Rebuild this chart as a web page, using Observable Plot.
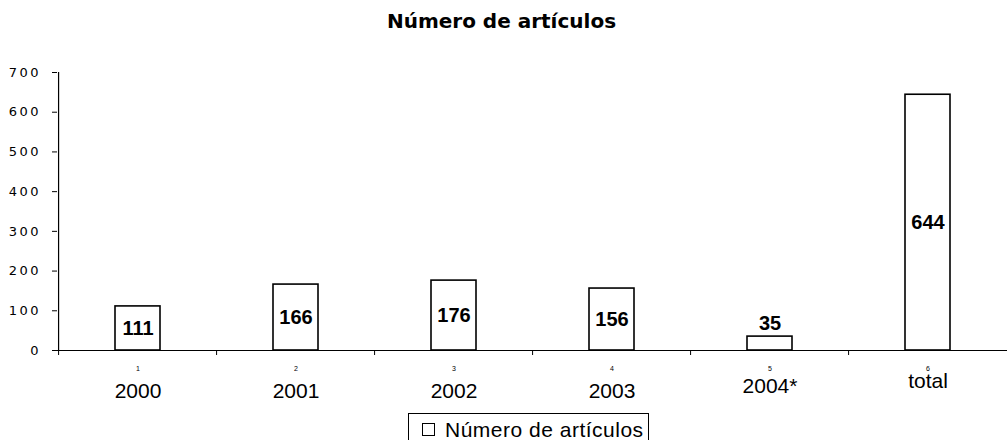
<!DOCTYPE html>
<html><head><meta charset="utf-8">
<script src="https://cdn.jsdelivr.net/npm/d3@7"></script>
<script src="https://cdn.jsdelivr.net/npm/@observablehq/plot@0.6"></script>
<style>
body{margin:0;background:#fff;}
#wrap{position:relative;width:1007px;height:440px;overflow:hidden;background:#fff;}
#title{position:absolute;left:0;top:11px;width:1003px;text-align:center;font-family:"DejaVu Sans";font-weight:bold;font-size:20px;line-height:20px;color:#000;}
#chart{position:absolute;left:0;top:0;}
#legend{position:absolute;left:408px;top:413px;width:241px;height:34px;border:1px solid #000;box-sizing:border-box;background:#fff;}
#legend .sw{position:absolute;left:13px;top:9px;width:13px;height:13px;border:1.5px solid #000;box-sizing:border-box;background:#fff;}
#legend .lb{position:absolute;left:36px;top:5px;font-family:"Liberation Sans";font-size:21px;line-height:21px;letter-spacing:0.5px;white-space:nowrap;color:#000;}
g[aria-label="y-axis tick label"] text{letter-spacing:2.5px;}
</style>
</head><body>
<div id="wrap">
  <div id="title">Número de artículos</div>
  <div id="chart"></div>
  <div id="legend"><div class="sw"></div><div class="lb">Número de artículos</div></div>
</div>
<script>
const categories = ["2000", "2001", "2002", "2003", "2004*", "total"];
const indexLabels = ["1", "2", "3", "4", "5", "6"];
const values = [111, 166, 176, 156, 35, 644];
const yTicks = [0, 100, 200, 300, 400, 500, 600, 700];

const data = categories.map((c, i) => ({category: c, value: values[i]}));
const xRange = [56, 1009];
const halfStep = (xRange[1] - xRange[0]) / categories.length / 2;

const chart = Plot.plot({
  width: 1007,
  height: 440,
  marginTop: 72,
  marginBottom: 90,
  marginLeft: 57,
  marginRight: 0,
  style: {fontFamily: "Liberation Sans", background: "transparent", color: "#000"},
  x: {type: "band", domain: categories, range: xRange, paddingInner: 0.717, paddingOuter: 0.3585, align: 0.5},
  y: {domain: [0, 700]},
  marks: [
    Plot.rectY(data, {x: "category", y: "value", fill: "#fff", stroke: "#000", strokeWidth: 1.6}),
    Plot.ruleY([0], {stroke: "#000", strokeWidth: 1.2}),
    Plot.ruleX([categories[0]], {x: d => d, dx: -halfStep, y1: 0, y2: 700, stroke: "#000", strokeWidth: 1.2}),
    Plot.ruleX(categories, {x: d => d, dx: -halfStep, y1: 0, y2: 0, insetBottom: -5, stroke: "#000", strokeWidth: 1}),
    Plot.axisY({ticks: yTicks, tickSize: 5, tickPadding: 11.5, fontSize: 13, fontFamily: "DejaVu Sans", label: null, tickFormat: d => String(d)}),
    Plot.axisX({tickSize: 0, tickPadding: 16, fontSize: 7, label: null, tickFormat: (d) => indexLabels[categories.indexOf(d)]}),
    Plot.axisX({ticks: categories.slice(0, 4), tickSize: 0, tickPadding: 33, fontSize: 21, label: null}),
    Plot.axisX({ticks: categories.slice(4, 5), tickSize: 0, tickPadding: 28, fontSize: 21, label: null}),
    Plot.axisX({ticks: categories.slice(5), tickSize: 0, tickPadding: 23, fontSize: 21, label: null}),
    Plot.text(data.filter(d => d.value >= 60), {x: "category", y: d => d.value / 2, text: d => String(d.value), fontSize: 20, fontWeight: "bold", fill: "#000"}),
    Plot.text(data.filter(d => d.value < 60), {x: "category", y: "value", dy: -13, text: d => String(d.value), fontSize: 20, fontWeight: "bold", fill: "#000"})
  ]
});
document.getElementById("chart").appendChild(chart);
</script>
</body></html>
